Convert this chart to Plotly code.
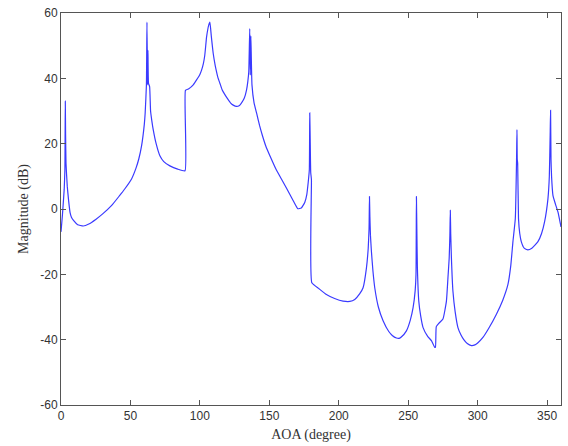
import plotly.graph_objects as go

aoa_deg = [0, 1, 1.5, 2.3, 2.8, 3.1, 3.3, 3.6, 4.5, 5.5, 6.5, 7.5, 9, 12, 16, 20, 25, 30, 36.5, 42, 46, 50.8,
           54, 56, 58, 60, 60.6, 61.5, 61.9, 62.3, 62.6, 63.0, 63.8, 64.5, 65.4, 66.4, 68.5, 71.2, 74, 78.4, 84,
           89.3, 89.6, 92, 95.2, 98, 100, 101.2, 102.5, 103.5, 104.8, 105.6, 106.3, 107.2, 108.2, 109.6, 111,
           112, 113, 114.4, 116, 118, 120, 122, 124, 126.4, 128.5, 130, 132, 133.6, 134.5, 135.2, 135.9,
           136.3, 136.7, 137.5, 139, 140.8, 143, 145, 147.5, 150.4, 155, 160,
           165, 167.5, 170.5, 173, 175.5, 177, 178, 178.8, 179.1, 179.4, 179.8, 180.3, 180.6, 186, 191.1, 197,
           203.1, 208, 211.5, 215, 217.5, 219.9, 221.2, 221.8, 222.1, 222.4, 222.8, 223.5, 224.6, 225.9,
           228.5, 231.9, 236, 238.5, 241.5, 243.5, 245, 248.7, 251.5, 253.5, 255, 255.6, 255.9, 256.2, 256.6,
           257.6, 259, 260.7, 264, 266.7, 269, 269.6, 270.2, 272, 275, 277.5, 278.6, 279.5, 280.0, 280.3,
           280.6, 281.1, 282.2, 283.8, 285.8, 288, 290, 292.5, 295.5, 298, 300, 303.8, 308, 313.5, 318, 321.8,
           323.8, 325.4, 327.1, 328.0, 328.3, 328.5, 328.8, 329.4, 330.3, 331.4, 333.5, 336.1, 339, 343.4, 346,
           348.2, 350.6, 351.6, 352.2, 352.5, 352.8, 353.2, 354.2, 356, 357.8, 360]

magnitude_db = [-7, -2, 1, 6, 12, 33, 23, 14, 7, 2.5, -1, -2.5, -3.5, -4.8, -5.2, -4.6, -3.2, -1.5, 1.1, 4, 6.2, 9.2,
                12.5, 15.3, 19.3, 26, 29.4, 38, 57.2, 38, 48.6, 38.5, 37.5, 30, 27, 24.3, 20, 16.3, 14.5, 13.2, 12.2,
                11.7, 36.3, 36.8, 38, 39.8, 41.2, 42.5, 44.5, 47, 52.6, 54.8, 56.2, 57.2, 53, 47.6, 44,
                42, 40.2, 38.5, 36.5, 35, 33.7, 32.5, 31.8, 31.4, 31.7, 32.5, 34, 36.5, 39, 42, 55.2,
                41, 53, 38, 32.5, 29.4, 25.5, 22.5, 19.2, 16.3, 12, 8.2,
                4.3, 2.3, 0.1, 0.3, 2, 4.5, 8.2, 12, 29.4, 21.8, 11.2, 9, -22.6, -24.5, -26.2, -27.4,
                -28.2, -28.3, -27.7, -26, -24.1, -18.1, -12, -6, 3.8, -2.4, -8, -13, -19, -24.1,
                -30, -34.2, -37.5, -38.7, -39.5, -39.6, -39.2, -37.3, -34, -30.2, -25, -20, 3.8, -6, -18,
                -28.2, -32.8, -36.3, -39, -40.3, -42.3, -42.3, -36, -35, -33.7, -28.2, -21.1, -15, -8, -0.4,
                -7.5, -15, -25.2, -31.5, -36.3, -38.6, -40, -41.2, -41.8, -41.6, -41, -39.3, -36.5, -32.2, -28, -23.1,
                -17.5, -10, -2.9, 15.2, 24.3, 15.2, 14, -2.9, -7.5, -10, -12, -12.5, -12, -10, -7.5,
                -3.9, 3.1, 10, 22.8, 30.2, 15.2, 10, 4.2, 1.5, -0.9, -5.5]

x_ticks = [0, 50, 100, 150, 200, 250, 300, 350]
y_ticks = [-60, -40, -20, 0, 20, 40, 60]
y_tick_labels = ["-60", "-40", "-20", "0", "20", "40", "60"]

fig = go.Figure()
fig.add_trace(go.Scatter(x=aoa_deg, y=magnitude_db, mode="lines",
                         line=dict(color="#3a3aff", width=1.2, shape="spline", smoothing=0.4),
                         showlegend=False))

axis_common = dict(showgrid=False, zeroline=False, showline=True, linecolor="#555555",
                   linewidth=1, mirror="ticks", ticks="inside", ticklen=5, tickcolor="#555555",
                   tickfont=dict(family="Liberation Sans, Arial", size=12, color="#333333"))

fig.update_xaxes(range=[0, 360], tickvals=x_ticks,
                 title=dict(text="AOA (degree)", font=dict(family="Liberation Serif, Times New Roman",
                                                            size=14, color="#333333"), standoff=6),
                 **axis_common)
fig.update_yaxes(range=[-60, 60], tickvals=y_ticks, ticktext=y_tick_labels,
                 title=dict(text="Magnitude (dB)", font=dict(family="Liberation Serif, Times New Roman",
                                                              size=14, color="#333333"), standoff=8),
                 **axis_common)

fig.update_layout(width=568, height=446, margin=dict(l=61, r=6, t=9, b=41),
                  plot_bgcolor="white", paper_bgcolor="white")

fig.write_html("out.html")
